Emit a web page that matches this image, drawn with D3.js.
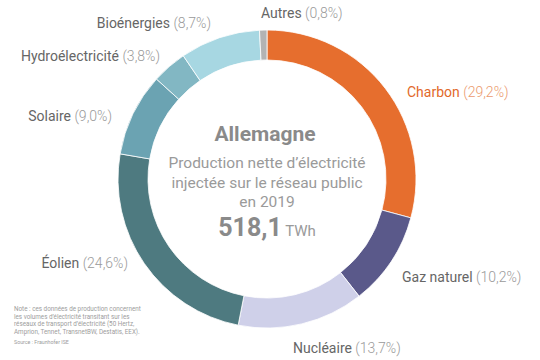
<!DOCTYPE html>
<html><head><meta charset="utf-8">
<script src="https://cdn.jsdelivr.net/npm/d3@7"></script>
<style>
html,body{margin:0;padding:0;background:#fff;}
svg{display:block;font-family:Roboto,"Noto Sans",sans-serif;}
</style></head>
<body><svg id="c" width="540" height="360"></svg>
<script>
const categories = ["Charbon","Gaz naturel","Nucléaire","Éolien","Solaire","Hydroélectricité","Bioénergies","Autres"];
const shares = [29.2,10.2,13.7,24.6,9.0,3.8,8.7,0.8];
const shareLabels = ["29,2%","10,2%","13,7%","24,6%","9,0%","3,8%","8,7%","0,8%"];
const colors = ["#E66E2E","#5A598A","#CFD0E9","#4E7A80","#6BA3B2","#82B7C3","#A7D7E2","#B3B3B3"];
const titleText = "Allemagne";
const subtitleLines = ["Production nette d’électricité","injectée sur le réseau public","en 2019"];
const totalValue = "518,1";
const totalUnit = "TWh";
const noteLines = ["Note : ces données de production concernent","les volumes d’électricité transitant sur les","réseaux de transport d’électricité (50 Hertz,","Amprion, Tennet, TransnetBW, Destatis, EEX)."];
const sourceText = "Source : Fraunhofer ISE";

// layout
const cx = 267, cy = 179, rOuter = 149, rInner = 119;
const labelLayout = {
  "Charbon": {x:407, y:97, anchor:"start"},
  "Gaz naturel": {x:402, y:282, anchor:"start"},
  "Nucléaire": {x:293, y:353, anchor:"start"},
  "Éolien": {x:128, y:268, anchor:"end"},
  "Solaire": {x:112, y:121, anchor:"end"},
  "Hydroélectricité": {x:160, y:61, anchor:"end"},
  "Bioénergies": {x:211, y:28, anchor:"end"},
  "Autres": {x:261, y:18, anchor:"start"}
};

const svg = d3.select("#c");
const data = categories.map((c,i)=>({name:c, value:shares[i], label:shareLabels[i], color:colors[i]}));
const pie = d3.pie().sort(null).value(d=>d.value).startAngle(0).endAngle(2*Math.PI);
const arc = d3.arc().innerRadius(rInner).outerRadius(rOuter);
const g = svg.append("g").attr("transform",`translate(${cx},${cy})`);
g.selectAll("path").data(pie(data)).join("path")
  .attr("d",arc).attr("fill",d=>d.data.color)
  .attr("stroke","#fff").attr("stroke-width",0.8);

// labels
const lab = svg.append("g").attr("font-size",14);
data.forEach(d=>{
  const L = labelLayout[d.name];
  const t = lab.append("text").attr("x",L.x).attr("y",L.y).attr("text-anchor",L.anchor);
  const isCoal = d.name==="Charbon";
  t.append("tspan").text(d.name).attr("fill",isCoal?"#E2692A":"#666").attr("font-weight",400);
  t.append("tspan").text(" ("+d.label+")").attr("fill",isCoal?"#EB9A6E":"#9a9a9a").attr("font-weight",300);
});

// center text
const ct = svg.append("g").attr("text-anchor","middle");
ct.append("text").attr("x",cx-2).attr("y",141).attr("font-size",21).attr("font-weight",700).attr("fill","#8a8a8a").text(titleText);
subtitleLines.forEach((s,i)=>{
  ct.append("text").attr("x",cx).attr("y",168+i*19.5).attr("font-size",15.5).attr("font-weight",400).attr("fill","#9a9a9a").text(s);
});
const tv = ct.append("text").attr("x",cx).attr("y",236);
tv.append("tspan").text(totalValue).attr("font-size",25).attr("font-weight",700).attr("fill","#8a8a8a");
tv.append("tspan").text(" "+totalUnit).attr("font-size",15).attr("font-weight",400).attr("fill","#9a9a9a");

// note
const nt = svg.append("g").attr("font-size",6.3).attr("fill","#9d9d9d");
noteLines.forEach((s,i)=>{
  nt.append("text").attr("x",14).attr("y",311+i*7.6).text(s);
});
nt.append("text").attr("x",14).attr("y",344).attr("font-size",5.3).text(sourceText);
</script></body></html>
